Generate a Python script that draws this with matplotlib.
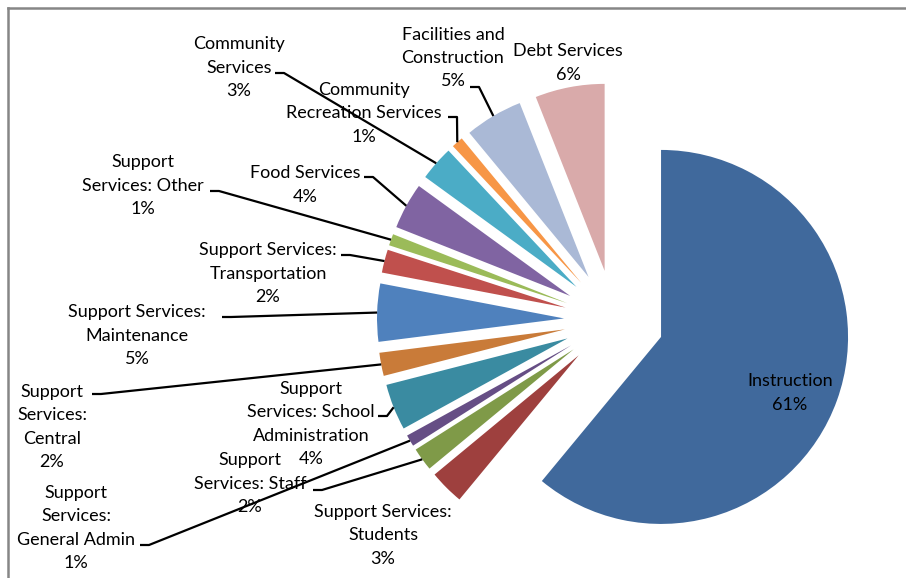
import matplotlib
matplotlib.use("Agg")
import matplotlib.pyplot as plt
import numpy as np
from matplotlib.lines import Line2D

# Budget shares by category (percent), drawn clockwise from 12 o'clock
categories = [
    "Instruction",
    "Support Services:\nStudents",
    "Support\nServices: Staff",
    "Support\nServices:\nGeneral Admin",
    "Support\nServices: School\nAdministration",
    "Support\nServices:\nCentral",
    "Support Services:\nMaintenance",
    "Support Services:\nTransportation",
    "Support\nServices: Other",
    "Food Services",
    "Community\nServices",
    "Community\nRecreation Services",
    "Facilities and\nConstruction",
    "Debt Services",
]
shares = [61, 3, 2, 1, 4, 2, 5, 2, 1, 4, 3, 1, 5, 6]
colors = [
    "#40699C", "#9E403E", "#7F9A48", "#664E85", "#3A8BA1", "#C97B39",
    "#4F81BD", "#C0504D", "#9BBB59", "#8064A2", "#4BACC6", "#F79646",
    "#AAB9D6", "#D9AAAA",
]

# Label block centres (pixels) and leader-line start points (None = no leader)
label_pos = [
    (790, 393), (383, 535), (250, 484), (76, 528), (311, 424), (52, 427),
    (137, 336), (268, 274), (143, 186), (305, 185), (239, 68), (364, 113),
    (453, 58), (568, 63),
]
leader_start = [
    None, None, (313, 490), (140, 545), (378, 416), (92, 394),
    (222, 317), (341, 255), (210, 191), (364, 177), (275, 73), (448, 117),
    (470, 87), None,
]

W, H = 906, 578
fig = plt.figure(figsize=(W / 100, H / 100), dpi=100)
ax = fig.add_axes([0, 0, 1, 1])

radius = 187
offset = 50
wedges, _ = ax.pie(
    shares,
    colors=colors,
    explode=[offset] * len(shares),
    center=(614, 320),
    radius=radius,
    startangle=-90,
    counterclock=True,
    wedgeprops=dict(linewidth=0),
)
ax.set_xlim(0, W)
ax.set_ylim(H, 0)
ax.set_aspect("equal")
ax.axis("off")

font = dict(family=["Lato", "DejaVu Sans"], size=13, color="#000000")
line_step = 23.5
for w, cat, val, pos, start in zip(wedges, categories, shares, label_pos, leader_start):
    lines = cat.split("\n") + [f"{val}%"]
    n = len(lines)
    for i, line in enumerate(lines):
        ax.text(pos[0], pos[1] + (i - (n - 1) / 2) * line_step, line,
                ha="center", va="center", **font)
    if start is not None:
        th = np.deg2rad(0.5 * (w.theta1 + w.theta2))
        cx, cy = w.center
        ex, ey = cx + radius * np.cos(th), cy + radius * np.sin(th)
        ax.plot([start[0], start[0] + 9, ex], [start[1], start[1], ey],
                color="black", lw=1.6, solid_capstyle="butt")

# chart-area border (left and top edges fall inside the canvas)
fig.add_artist(Line2D([7.5 / W, 7.5 / W], [0, 1 - 8 / H], transform=fig.transFigure,
                      color="#868686", lw=1.8))
fig.add_artist(Line2D([7.5 / W, 1], [1 - 8 / H, 1 - 8 / H], transform=fig.transFigure,
                      color="#868686", lw=1.8))

fig.savefig("out.png", dpi=100)
